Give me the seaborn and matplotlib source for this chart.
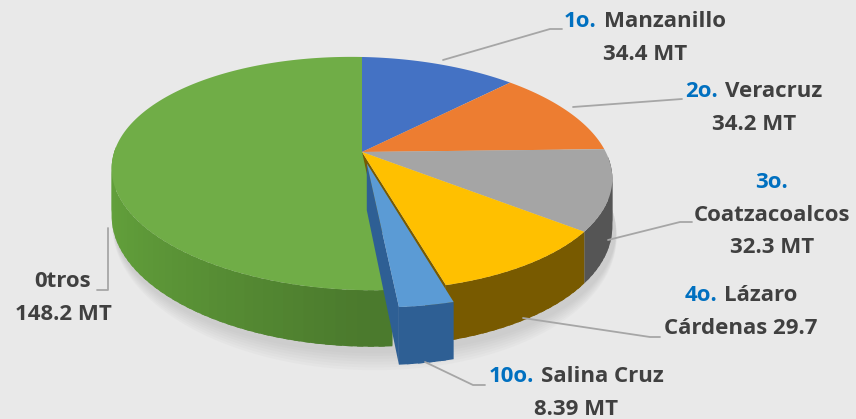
import matplotlib
matplotlib.use("Agg")
import matplotlib.pyplot as plt
import matplotlib.transforms as mtransforms
from matplotlib.path import Path
from matplotlib.colors import to_rgb
from matplotlib.offsetbox import TextArea, HPacker, VPacker, AnnotationBbox
import numpy as np
import seaborn as sns

# data (millions of tonnes)
ports = ["Manzanillo", "Veracruz", "Coatzacoalcos", "Lázaro Cárdenas", "Salina Cruz", "Otros"]
tonnage = [34.4, 34.2, 32.3, 29.7, 8.39, 148.2]
explode = [0, 0, 0, 0, 0.1, 0]
top_colors = ["#4472C4", "#ED7D31", "#A5A5A5", "#FFC000", "#5B9BD5", "#70AD47"]
side_colors = ["#2F528F", "#AE5A21", "#555555", "#785A00", "#2E5F94", "#4B7A2D"]

sns.set_theme(style="white")
plt.rcParams["font.family"] = ["Open Sans", "DejaVu Sans"]

BG = "#E9E9E9"
DARK = "#404040"
RANK = "#0070C0"
LEADER = "#A6A6A6"

# perspective view of the pie disc (pixel coords)
X0, Y0 = 362, 152      # projected centre
A, B = 246, 112.6      # horizontal / vertical radius
K = 0.185              # perspective strength
SH = 5                 # slight tilt
D = 46                 # thickness


def project(u, v, dz=0.0):
    u = np.asarray(u, float)
    v = np.asarray(v, float)
    w = 1 + K * v
    return X0 + A * u / w, Y0 - B * v / w + SH * u / w + D * dz / w


class Perspective(mtransforms.Transform):
    input_dims = output_dims = 2
    is_separable = False

    def transform_non_affine(self, values):
        values = np.asarray(values, float)
        x, y = project(values[:, 0], values[:, 1])
        return np.column_stack([x, y])

    def transform_path_non_affine(self, path):
        scale = mtransforms.Affine2D().scale(2000)
        polys = path.to_polygons(transform=scale, width=0, height=0)
        verts = [self.transform_non_affine(p / 2000) for p in polys]
        return Path.make_compound_path(*[Path(vv, closed=True) for vv in verts])


fig = plt.figure(figsize=(8.56, 4.19), dpi=100, facecolor=BG)
ax = fig.add_axes([0, 0, 1, 1])
ax.set_facecolor(BG)

wedges, _ = ax.pie(tonnage, colors=top_colors, explode=explode, startangle=90,
                   counterclock=False, radius=1, center=(0, 0),
                   wedgeprops=dict(linewidth=0))
ax.set_xlim(0, 856)
ax.set_ylim(419, 0)
ax.set_aspect("auto")
ax.axis("off")

persp = Perspective() + ax.transData


def front_ranges(t1, t2):
    out = []
    for k in (-1, 0, 1):
        lo, hi = max(t1, 180 + 360 * k), min(t2, 360 + 360 * k)
        if hi > lo:
            out.append((lo, hi))
    return out


def shade(color, t, amount=0.32):
    # side walls get lighter towards the left
    f = 1 + amount * max(0.0, -np.cos(np.deg2rad(t)))
    return tuple(min(1, c * f) for c in to_rgb(color))


def draw_wall(w, color, z):
    ox, oy = w.center
    for lo, hi in front_ranges(w.theta1, w.theta2):
        edges = np.linspace(lo, hi, max(2, int((hi - lo) / 2) + 1))
        for a0, a1 in zip(edges[:-1], edges[1:]):
            b0, b1 = max(lo, a0 - 0.6), min(hi, a1 + 0.6)
            t = np.deg2rad(np.linspace(b0, b1, 5))
            u, v = ox + np.cos(t), oy + np.sin(t)
            xt, yt = project(u, v)
            xb, yb = project(u, v, 1)
            ax.fill(np.r_[xt, xb[::-1]], np.r_[yt, yb[::-1]],
                    color=shade(color, (a0 + a1) / 2), lw=0, zorder=z)


def draw_rim(w, color, z):
    # soft bevel highlight along the front edge of the top
    ox, oy = w.center
    for lo, hi in front_ranges(w.theta1 + 0.8, w.theta2 - 0.8):
        lo, hi = max(lo, 185), min(hi, 345)
        if hi <= lo:
            continue
        t = np.deg2rad(np.linspace(lo, hi, 60))
        light = tuple(min(1, c * 1.1 + 0.05) for c in to_rgb(color))
        xs, ys = project(ox + 0.99 * np.cos(t), oy + 0.99 * np.sin(t))
        ax.plot(xs, ys, color=light, lw=2.2, alpha=0.45,
                solid_capstyle="butt", zorder=z)


def draw_face(w, t, color, z):
    ox, oy = w.center
    a = np.deg2rad(t)
    u = np.array([ox, ox + np.cos(a), ox + np.cos(a), ox])
    v = np.array([oy, oy + np.sin(a), oy + np.sin(a), oy])
    x, y = project(u, v, np.array([0, 0, 1, 1]))
    ax.fill(x, y, color=color, lw=0, zorder=z)


main = [i for i, e in enumerate(explode) if e == 0]
cut = [i for i, e in enumerate(explode) if e > 0]

# soft shadow under the disc, mostly showing at the front
tt = np.deg2rad(np.linspace(0, 360, 240))
for s in np.linspace(1.09, 1.0, 7):
    xs, ys = project(0.01 + np.cos(tt), -0.02 + s * np.sin(tt), 1.05)
    ax.fill(xs, ys, color="#A0A0A0", alpha=0.06, lw=0, zorder=0.5)

for i in main:
    draw_wall(wedges[i], side_colors[i], 1)
# faces left open by the pulled-out slice
for i in cut:
    for j in main:
        if np.isclose(wedges[j].theta1 % 360, wedges[i].theta2 % 360):
            draw_face(wedges[j], wedges[j].theta1, side_colors[j], 2)
        if np.isclose(wedges[j].theta2 % 360, wedges[i].theta1 % 360):
            draw_face(wedges[j], wedges[j].theta2, side_colors[j], 2)

for i, w in enumerate(wedges):
    w.set_transform(persp)
    w.set_zorder(6 if i in cut else 3)

for i in main:
    draw_rim(wedges[i], top_colors[i], 3.5)

for i in cut:
    draw_wall(wedges[i], side_colors[i], 4)
    draw_face(wedges[i], wedges[i].theta1, side_colors[i], 5)
    draw_rim(wedges[i], top_colors[i], 6.5)

# labels
labels = [
    ("1o.", "Manzanillo", ["34.4 MT"], (645, 38)),
    ("2o.", "Veracruz", ["34.2 MT"], (754, 108)),
    ("3o.", None, ["Coatzacoalcos", "32.3 MT"], (772, 215)),
    ("4o.", "Lázaro", ["Cárdenas 29.7"], (741, 312)),
    ("10o.", "Salina Cruz", ["8.39 MT"], (576, 393)),
    (None, "0tros", ["148.2 MT"], (63, 298)),
]
fs = 16
for rank, name, rest, (x, y) in labels:
    parts = []
    if rank:
        parts.append(TextArea(rank, textprops=dict(color=RANK, fontsize=fs, fontweight="bold")))
    if name:
        parts.append(TextArea(name, textprops=dict(color=DARK, fontsize=fs, fontweight="bold")))
    rows = [HPacker(children=parts, align="baseline", pad=0, sep=5)]
    for r in rest:
        rows.append(TextArea(r, textprops=dict(color=DARK, fontsize=fs, fontweight="bold")))
    box = VPacker(children=rows, align="center", pad=0, sep=8)
    ax.add_artist(AnnotationBbox(box, (x, y), xycoords="data", frameon=False,
                                 box_alignment=(0.5, 0.5), zorder=8))

leaders = [
    ([443, 550, 562], [60, 29, 29]),
    ([573, 682], [107, 99]),
    ([608, 680, 692], [240, 222, 222]),
    ([523, 650, 660], [318, 337, 337]),
    ([425, 473, 485], [362, 385, 385]),
    ([108, 108, 97], [228, 290, 290]),
]
for xs, ys in leaders:
    ax.plot(xs, ys, color=LEADER, lw=1.3, zorder=7)

fig.savefig("out.png", dpi=100, facecolor=BG)
